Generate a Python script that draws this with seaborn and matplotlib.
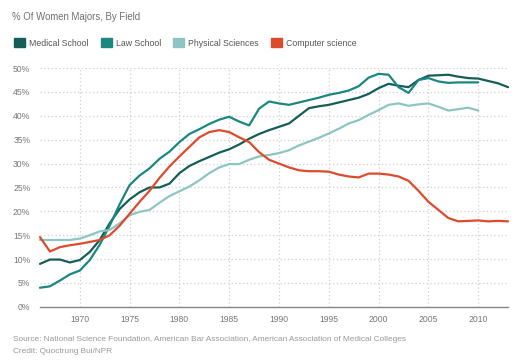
import pandas as pd
import numpy as np
import matplotlib
matplotlib.use('Agg')
import matplotlib.pyplot as plt
import seaborn as sns
from matplotlib.patches import Patch

years = list(range(1966, 2014))

medical = [9.0, 9.9, 9.9, 9.3, 9.8, 11.5, 14.0, 17.5, 20.5, 22.5,
           24.0, 25.0, 25.0, 25.8, 28.0, 29.5, 30.5, 31.4, 32.3, 33.0,
           34.0, 35.2, 36.2, 37.0, 37.7, 38.4, 40.0, 41.6, 42.0, 42.3,
           42.8, 43.3, 43.8, 44.6, 45.8, 46.7, 46.3, 46.0, 47.5, 48.4,
           48.5, 48.6, 48.2, 47.9, 47.8, 47.3, 46.8, 46.0]

law = [4.0, 4.3, 5.5, 6.8, 7.6, 9.8, 13.0, 17.0, 21.5, 25.5,
       27.5, 29.0, 31.0, 32.5, 34.5, 36.2, 37.2, 38.3, 39.2, 39.8,
       38.8, 38.0, 41.5, 43.0, 42.6, 42.3, 42.8, 43.3, 43.8, 44.4,
       44.8, 45.3, 46.2, 48.0, 48.8, 48.6, 46.0, 44.8, 47.5, 47.9,
       47.2, 46.9, 47.0, 47.0, 47.0]

physical = [14.0, 14.0, 14.0, 14.0, 14.3, 15.0, 15.8, 16.1, 17.5, 19.2,
            19.9, 20.3, 21.8, 23.2, 24.2, 25.2, 26.5, 28.0, 29.2, 29.9,
            29.9, 30.8, 31.5, 31.8, 32.2, 32.8, 33.8, 34.6, 35.4, 36.3,
            37.3, 38.4, 39.1, 40.2, 41.2, 42.3, 42.6, 42.1, 42.4, 42.6,
            41.9, 41.1, 41.4, 41.7, 41.1]

compsci = [14.6, 11.6, 12.5, 12.9, 13.2, 13.6, 14.0, 15.0, 17.0, 19.5,
           22.0, 24.3, 27.0, 29.4, 31.5, 33.5, 35.5, 36.6, 37.0, 36.6,
           35.5, 34.5, 32.4, 30.8, 30.0, 29.2, 28.6, 28.4, 28.4, 28.3,
           27.7, 27.3, 27.1, 27.9, 27.9, 27.7, 27.3, 26.4, 24.3, 22.0,
           20.3, 18.6, 17.9, 18.0, 18.1, 17.9, 18.0, 17.9]

fields = ['Medical School', 'Law School', 'Physical Sciences', 'Computer science']
colors = ['#155e57', '#1a8780', '#8cc5c1', '#de4a2c']

frames = []
for name, vals in zip(fields, [medical, law, physical, compsci]):
    frames.append(pd.DataFrame({'year': years[:len(vals)], 'pct': vals, 'field': name}))
df = pd.concat(frames, ignore_index=True)

sns.set_style('white')
plt.rcParams['font.family'] = ['Liberation Sans', 'DejaVu Sans']

fig = plt.figure(figsize=(5.26, 3.64), dpi=100)
ax = fig.add_axes([0.076, 0.157, 0.890, 0.656])

sns.lineplot(data=df, x='year', y='pct', hue='field', hue_order=fields,
             palette=colors, linewidth=1.6, legend=False, ax=ax)
for ln in ax.lines:
    ln.set_clip_on(False)
    ln.set_solid_capstyle('round')
    ln.set_solid_joinstyle('round')

ax.set_xlim(1966, 2013)
ax.set_ylim(0, 50)
ax.set_xticks(range(1970, 2011, 5))
ax.set_yticks(range(0, 51, 5))
ax.set_yticklabels([f'{v}%' for v in range(0, 51, 5)])
ax.set_xlabel('')
ax.set_ylabel('')

ax.grid(True, color='#d0d0d0', linestyle=(0, (1, 2)), linewidth=0.9)
ax.set_axisbelow(True)
for s in ['top', 'right', 'left']:
    ax.spines[s].set_visible(False)
ax.spines['bottom'].set_color('#888888')
ax.spines['bottom'].set_linewidth(1.0)
ax.tick_params(axis='both', colors='#777777', labelsize=6.2, length=0)
ax.tick_params(axis='y', pad=7)
ax.tick_params(axis='x', pad=6)
ax.set_xticks([1966, 2013], minor=True)
ax.tick_params(axis='x', which='minor', length=4, direction='in', color='#888888', width=1.0)

fig.text(0.023, 0.953, '% Of Women Majors, By Field', fontsize=6.9, color='#707070',
         va='center', ha='left')

handles = [Patch(facecolor=c, edgecolor=c, label=f) for f, c in zip(fields, colors)]
leg = fig.legend(handles=handles, loc='center left', bbox_to_anchor=(0.012, 0.882),
                 ncol=4, frameon=False, fontsize=6.3, handlelength=1.25, handleheight=1.25,
                 handletextpad=0.45, columnspacing=1.4, labelcolor='#555555')

fig.text(0.025, 0.066, 'Source: National Science Foundation, American Bar Association, American Association of Medical Colleges',
         fontsize=5.95, color='#999999', va='center', ha='left')
fig.text(0.025, 0.034, 'Credit: Quoctrung Bui/NPR', fontsize=5.95, color='#999999',
         va='center', ha='left')

fig.savefig('out.png', dpi=100)
